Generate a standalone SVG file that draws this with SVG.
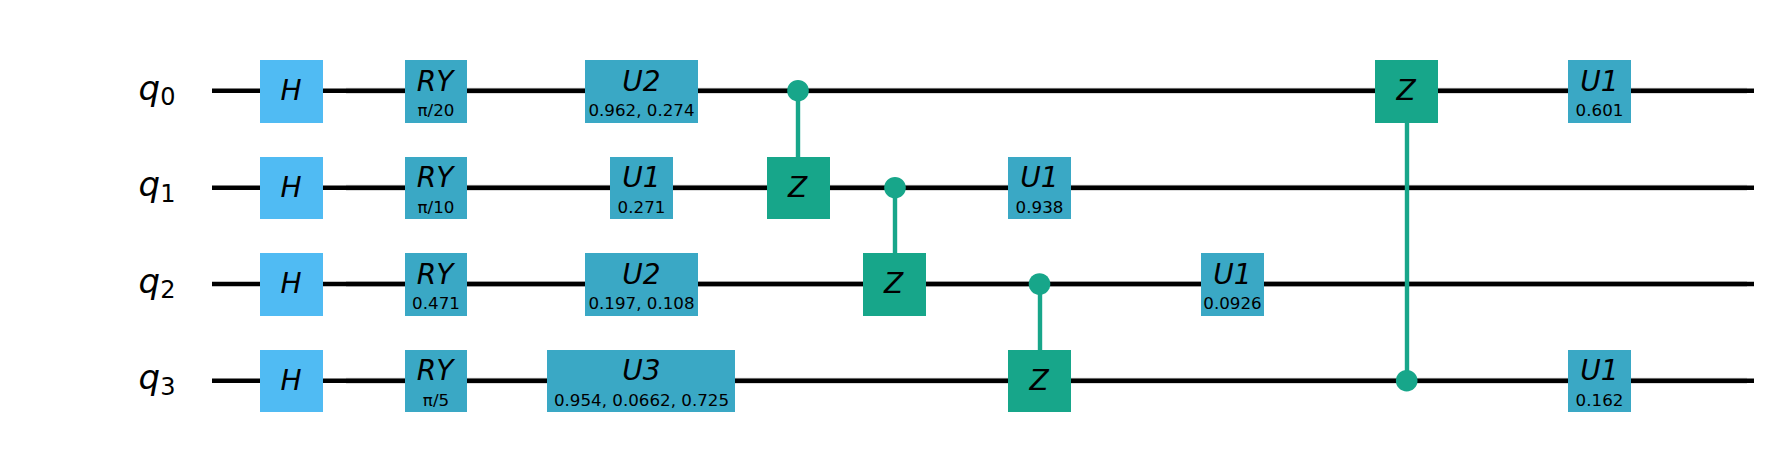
<svg xmlns="http://www.w3.org/2000/svg" width="1769" height="454" viewBox="0 0 1769 454">
<style>
text{font-family:"DejaVu Sans",sans-serif;fill:#000;text-anchor:middle}
.g{font-size:28px;font-style:italic}
.p{font-size:16.7px}
.q{font-size:34px;font-style:italic}
.s{font-size:24px;font-style:normal}
.h{fill:#50bbf3}.u{fill:#3aa8c5}.z{fill:#17a68a}
.w{stroke:#000;stroke-width:4.6;fill:none}
.sh{stroke:#d0d0d0;stroke-width:6;fill:none}
.c{stroke:#17a68a;stroke-width:4.4;fill:none}
.d{fill:#17a68a}
</style>
<rect width="1769" height="454" fill="#fff"/>
<g id="wires">
<path class="sh" d="M346 90.7H1747M346 187.7H1747M346 284H1747M346 380.7H1747"/>
<path class="w" d="M212 90.7H1754M212 187.7H1754M212 284H1754M212 380.7H1754"/>
</g>
<g id="connectors">
<path class="c" d="M798 90.7V157M895 187.7V253M1040 284V350M1407 123V380.7"/>
</g>
<g id="labels">
<text class="q" x="157" y="99.5">q<tspan class="s" dy="5.5">0</tspan></text>
<text class="q" x="157" y="196">q<tspan class="s" dy="5.5">1</tspan></text>
<text class="q" x="157" y="292.5">q<tspan class="s" dy="5.5">2</tspan></text>
<text class="q" x="157" y="389">q<tspan class="s" dy="5.5">3</tspan></text>
</g>
<g id="h0"><rect class="h" x="260" y="60" width="63" height="63"/><text class="g" x="291" y="100">H</text></g>
<g id="h1"><rect class="h" x="260" y="157" width="63" height="62"/><text class="g" x="291" y="197">H</text></g>
<g id="h2"><rect class="h" x="260" y="253" width="63" height="63"/><text class="g" x="291" y="293">H</text></g>
<g id="h3"><rect class="h" x="260" y="350" width="63" height="62"/><text class="g" x="291" y="390">H</text></g>
<g id="ry0"><rect class="u" x="405" y="60" width="62" height="63"/><text class="g" x="435" y="91">RY</text><text class="p" x="436" y="115.5">π/20</text></g>
<g id="ry1"><rect class="u" x="405" y="157" width="62" height="62"/><text class="g" x="435" y="187">RY</text><text class="p" x="436" y="212.5">π/10</text></g>
<g id="ry2"><rect class="u" x="405" y="253" width="62" height="63"/><text class="g" x="435" y="284">RY</text><text class="p" x="436" y="308.5">0.471</text></g>
<g id="ry3"><rect class="u" x="405" y="350" width="62" height="62"/><text class="g" x="435" y="380">RY</text><text class="p" x="436" y="405.5">π/5</text></g>
<g id="u2a"><rect class="u" x="585" y="60" width="113" height="63"/><text class="g" x="641.5" y="91">U2</text><text class="p" x="641.5" y="115.5">0.962, 0.274</text></g>
<g id="u1b"><rect class="u" x="610" y="157" width="63" height="62"/><text class="g" x="641.5" y="187">U1</text><text class="p" x="641.5" y="212.5">0.271</text></g>
<g id="u2c"><rect class="u" x="585" y="253" width="113" height="63"/><text class="g" x="641.5" y="284">U2</text><text class="p" x="641.5" y="308.5">0.197, 0.108</text></g>
<g id="u3d"><rect class="u" x="547" y="350" width="188" height="62"/><text class="g" x="641.5" y="380">U3</text><text class="p" x="641.5" y="405.5">0.954, 0.0662, 0.725</text></g>
<g id="cz01c"><circle class="d" cx="798" cy="90.7" r="10.8"/></g>
<g id="cz01t"><rect class="z" x="767" y="157" width="63" height="62"/><text class="g" x="797.5" y="196.5">Z</text></g>
<g id="cz12c"><circle class="d" cx="895" cy="187.7" r="10.8"/></g>
<g id="cz12t"><rect class="z" x="863" y="253" width="63" height="63"/><text class="g" x="893.5" y="293">Z</text></g>
<g id="cz23c"><circle class="d" cx="1039.5" cy="284" r="10.8"/></g>
<g id="cz23t"><rect class="z" x="1008" y="350" width="63" height="62"/><text class="g" x="1039" y="390">Z</text></g>
<g id="u1e"><rect class="u" x="1008" y="157" width="63" height="62"/><text class="g" x="1039.5" y="187">U1</text><text class="p" x="1039.5" y="212.5">0.938</text></g>
<g id="u1f"><rect class="u" x="1201" y="253" width="63" height="63"/><text class="g" x="1232.5" y="284">U1</text><text class="p" x="1232.5" y="308.5">0.0926</text></g>
<g id="cz03t"><rect class="z" x="1375" y="60" width="63" height="63"/><text class="g" x="1406" y="100">Z</text></g>
<g id="cz03c"><circle class="d" cx="1406.7" cy="380.7" r="10.8"/></g>
<g id="u1g"><rect class="u" x="1568" y="60" width="63" height="63"/><text class="g" x="1599.5" y="91">U1</text><text class="p" x="1599.5" y="115.5">0.601</text></g>
<g id="u1h"><rect class="u" x="1568" y="350" width="63" height="62"/><text class="g" x="1599.5" y="380">U1</text><text class="p" x="1599.5" y="405.5">0.162</text></g>
</svg>
